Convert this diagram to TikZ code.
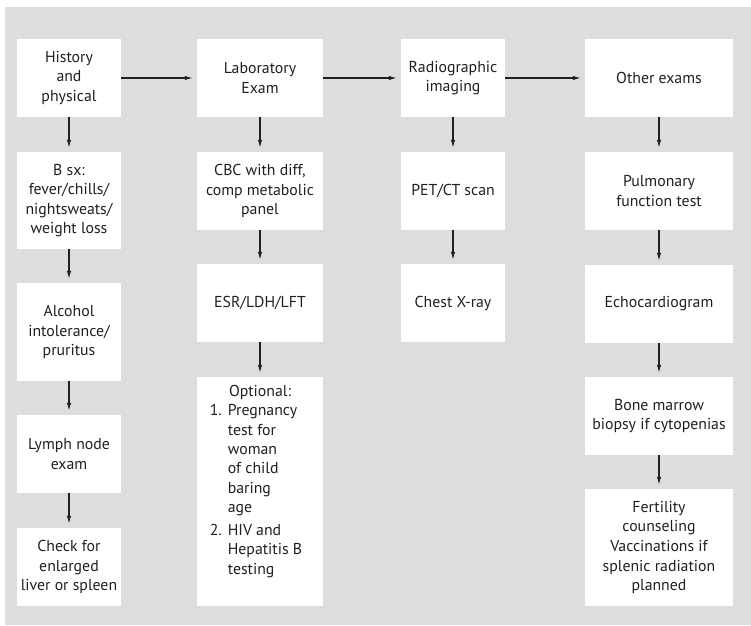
\documentclass[tikz,border=0pt]{standalone}
\usepackage{fontspec}
\setmainfont{PT Sans}
\usetikzlibrary{arrows.meta}
\definecolor{panel}{HTML}{DCDDDF}
\definecolor{ink}{HTML}{231F20}
\tikzset{
  box/.style={fill=white, draw=none, inner sep=2pt, align=center,
    text=ink, font=\fontsize{15.8}{19.6}\selectfont},
  flow/.style={draw=ink, line width=1.2pt,
    -{Latex[length=8pt,width=4.5pt]}, shorten >=4pt},
}
\newcommand{\boxat}[6]{% name, x0, y0, x1, y1, text
  \node[box, minimum width=#4-#2, minimum height=#5-#3] (#1)
    at ({(#2+#4)/2},{(#3+#5)/2}) {#6};}
\begin{document}
\begin{tikzpicture}[x=1pt, y=-1pt]
\useasboundingbox (0,0) rectangle (751,625);
\fill[panel] (5,7) rectangle (751,625);

% column 1
\boxat{hp}{17}{39}{121}{117}{History\\and\\physical}
\boxat{bsx}{17}{152}{121}{249}{B sx:\\fever/chills/\\nightsweats/\\weight loss}
\boxat{alc}{17}{283}{121}{381}{Alcohol\\intolerance/\\pruritus}
\boxat{lym}{17}{415}{121}{493}{Lymph node\\exam}
\boxat{liv}{17}{528}{121}{606}{Check for\\enlarged\\liver or spleen}

% column 2
\boxat{lab}{197}{39}{323}{117}{Laboratory\\Exam}
\boxat{cbc}{197}{152}{323}{230}{CBC with diff,\\comp metabolic\\panel}
\boxat{esr}{197}{264}{323}{342}{ESR/LDH/LFT}
\boxat{opt}{197}{377}{323}{606}{}
\node[anchor=north, inner sep=0pt, text=ink,
      font=\fontsize{15.8}{19.3}\selectfont] (opttext) at ([xshift=-4pt,yshift=-6pt]opt.north)
  {\begin{tabular}{@{}r@{\hspace{6pt}}l@{}}
    \multicolumn{2}{c}{\hspace{8pt}Optional:}\\
    1. & Pregnancy\\
       & test for\\
       & woman\\
       & of child\\
       & baring\\
       & age\\[4pt]
    2. & HIV and\\
       & Hepatitis B\\
       & testing
  \end{tabular}};

% column 3
\boxat{rad}{401}{39}{505}{117}{Radiographic\\imaging}
\boxat{pet}{401}{152}{505}{230}{PET/CT scan}
\boxat{cxr}{401}{264}{505}{342}{Chest X-ray}

% column 4
\boxat{oth}{585}{39}{733}{117}{Other exams}
\boxat{pft}{585}{152}{733}{230}{Pulmonary\\function test}
\boxat{ech}{585}{265}{733}{343}{Echocardiogram}
\boxat{bm}{585}{377}{733}{455}{Bone marrow\\biopsy if cytopenias}
\boxat{fer}{585}{489}{733}{606}{Fertility\\counseling\\Vaccinations if\\splenic radiation\\planned}

% connectors
\draw[flow] (hp) -- (lab);
\draw[flow] (lab) -- (rad);
\draw[flow] (rad) -- (oth);
\draw[flow] (hp) -- (bsx);
\draw[flow] (bsx) -- (alc);
\draw[flow] (alc) -- (lym);
\draw[flow] (lym) -- (liv);
\draw[flow] (lab) -- (cbc);
\draw[flow] (cbc) -- (esr);
\draw[flow] (esr) -- (opt);
\draw[flow] (rad) -- (pet);
\draw[flow] (pet) -- (cxr);
\draw[flow] (oth) -- (pft);
\draw[flow] (pft) -- (ech);
\draw[flow] (ech) -- (bm);
\draw[flow] (bm) -- (fer);
\end{tikzpicture}
\end{document}
